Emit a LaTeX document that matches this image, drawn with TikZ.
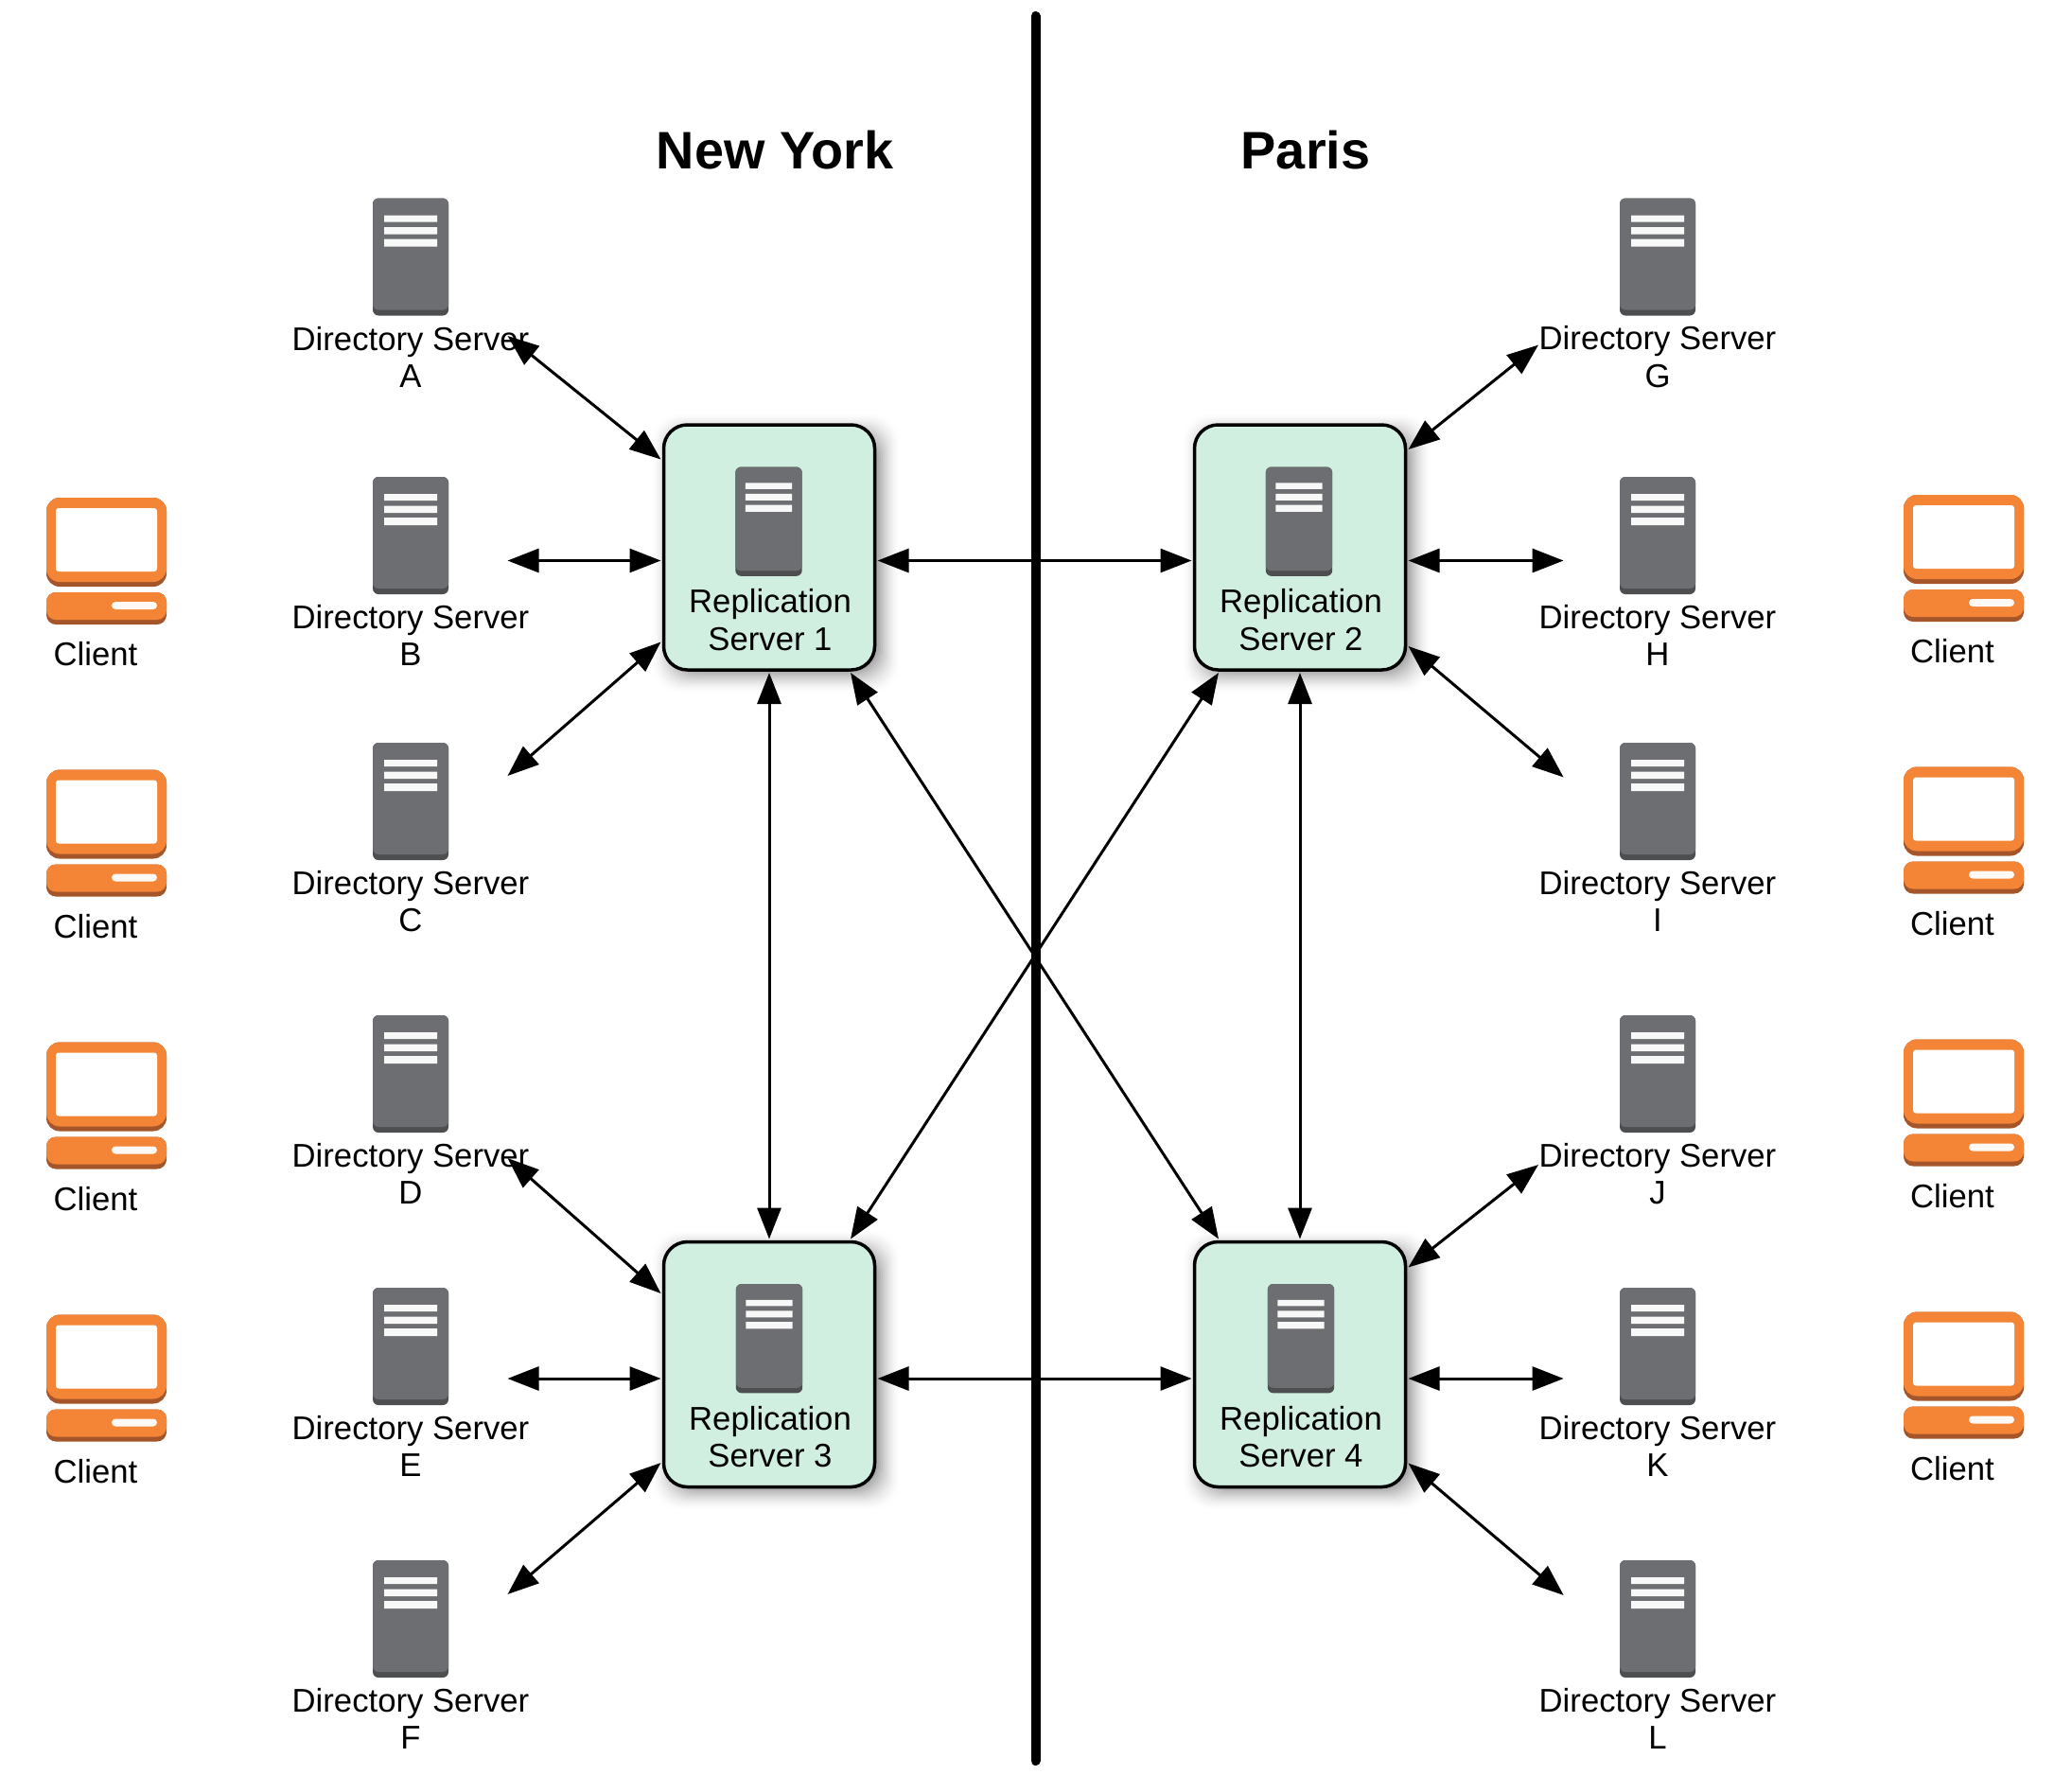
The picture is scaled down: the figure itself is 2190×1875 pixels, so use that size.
\documentclass[tikz,border=0pt]{standalone}
\usepackage{fontspec}
\setmainfont{Liberation Sans}
\usetikzlibrary{arrows.meta}
\definecolor{srvgray}{HTML}{6D6E71}
\definecolor{srvdark}{HTML}{4D4E50}
\definecolor{cliorange}{HTML}{F58536}
\definecolor{clidark}{HTML}{A4552A}
\definecolor{repgreen}{HTML}{D0EFE0}
\tikzset{
	lbl/.style={font=\fontsize{17.35}{19.6}\selectfont,align=center,inner sep=0pt},
	city/.style={font=\fontsize{27.9}{30}\selectfont\bfseries,inner sep=0pt},
	repbox/.style={draw=black,line width=1.75pt,fill=repgreen,rounded corners=12.5pt,minimum width=111.5pt,minimum height=129.5pt,inner sep=0pt,outer sep=1.5pt},
	link/.style={line width=1.5pt,{Triangle[length=16.5pt,width=12.5pt]}-{Triangle[length=16.5pt,width=12.5pt]}},
	server/.pic={
		\fill[srvdark,rounded corners=3pt] (-40,0) rectangle (40,124);
		\fill[srvgray,rounded corners=3pt] (-40,0) rectangle (40,118);
		\fill[white!95!srvgray] (-28,18) rectangle (28,25) (-28,30.5) rectangle (28,38) (-28,43) rectangle (28,51);
	},
	client/.pic={
		\fill[clidark,rounded corners=7pt] (-63.5,0) rectangle (63.5,94);
		\fill[cliorange,rounded corners=7pt] (-63.5,0) rectangle (63.5,89);
		\fill[white,rounded corners=1.5pt] (-53.5,11) rectangle (53.5,78);
		\fill[clidark,rounded corners=5pt] (-63.5,100) rectangle (63.5,134);
		\fill[cliorange,rounded corners=5pt] (-63.5,100) rectangle (63.5,129);
		\fill[white!95!cliorange,rounded corners=2pt] (5.5,110) rectangle (53.5,118);
	}
}
\begin{document}
\begin{tikzpicture}[x=0.5pt,y=-0.5pt]
	\useasboundingbox (0,0) rectangle (2190,1875);
	\draw[line width=5pt,line cap=round] (1094.5,17) -- (1094.5,1861);
	\node[city] (newyork) at (819,159) {New York};
	\node[city] (paris) at (1380,159) {Paris};
	% directory servers
	\foreach \t/\n/\m in {209.5/A/G,504/B/H,785/C/I,1073/D/J,1361/E/K,1649/F/L}{
		\path (434,\t) pic {server} +(0,167.6) node[lbl] (ds\n) {Directory Server\\\n};
		\path (1752,\t) pic {server} +(0,167.6) node[lbl] (ds\m) {Directory Server\\\m};
	}
	% clients
	\foreach \t in {526,813.5,1101.5,1389.5}{
		\path (112.5,\t) pic {client} +(-11.5,165.5) node[lbl] (cl\t) {Client};
		\path (2075.5,\t-3) pic {client} +(-12,165.5) node[lbl] (cr\t) {Client};
	}
	% replication servers
	\foreach \n/\x/\y/\i in {1/813/578.5/812.5,2/1374/578.5/1373,3/813/1442/813,4/1374/1442/1375}{
		\foreach \b in {18,16,...,-6}{
			\pgfmathsetmacro\op{0.004+0.0025*(18-\b)}
			\fill[black,opacity=\op,rounded corners=14pt] (\x-113+7-\b,\y-130+6-\b) rectangle (\x+113+7+\b,\y+130+6+\b);
		}
		\node[repbox] (rep\n) at (\x,\y) {};
		\path (\i,\y-85) pic[xscale=.88,yscale=.93] {server};
		\node[lbl] (rl\n) at (\x+1,\y+76.5) {Replication\\Server \n};
	}
	% free ends of the connectors
	\coordinate (endA) at (536.5,355);
	\coordinate (endB) at (536.5,592.5);
	\coordinate (endC) at (536.5,820);
	\coordinate (endD) at (536.5,1224);
	\coordinate (endE) at (536.5,1457);
	\coordinate (endF) at (536.5,1685);
	\coordinate (endG) at (1626,364.6);
	\coordinate (endH) at (1652.6,592.5);
	\coordinate (endI) at (1652.6,821.5);
	\coordinate (endJ) at (1626,1231);
	\coordinate (endK) at (1652.6,1457);
	\coordinate (endL) at (1652.7,1686);
	\draw[link] (endA) -- ([yshift=46.5pt]rep1.west);
	\draw[link] (endB) -- ([yshift=-7pt]rep1.west);
	\draw[link] (endC) -- ([yshift=-50pt]rep1.west);
	\draw[link] (endD) -- ([yshift=37.5pt]rep3.west);
	\draw[link] (endE) -- ([yshift=-7.5pt]rep3.west);
	\draw[link] (endF) -- ([yshift=-52pt]rep3.west);
	\draw[link] (endG) -- ([yshift=51.75pt]rep2.east);
	\draw[link] (endH) -- ([yshift=-7pt]rep2.east);
	\draw[link] (endI) -- ([yshift=-52.25pt]rep2.east);
	\draw[link] (endJ) -- ([yshift=51.25pt]rep4.east);
	\draw[link] (endK) -- ([yshift=-7.5pt]rep4.east);
	\draw[link] (endL) -- ([yshift=-52.25pt]rep4.east);
	\draw[link] ([yshift=-7pt]rep1.east) -- ([yshift=-7pt]rep2.west);
	\draw[link] ([yshift=-7.5pt]rep3.east) -- ([yshift=-7.5pt]rep4.west);
	\draw[link] (rep1.south) -- (rep3.north);
	\draw[link] (rep2.south) -- (rep4.north);
	\draw[link] ([xshift=43pt]rep1.south) -- ([xshift=-43pt]rep4.north);
	\draw[link] ([xshift=-43pt]rep2.south) -- ([xshift=43pt]rep3.north);
\end{tikzpicture}
\end{document}
